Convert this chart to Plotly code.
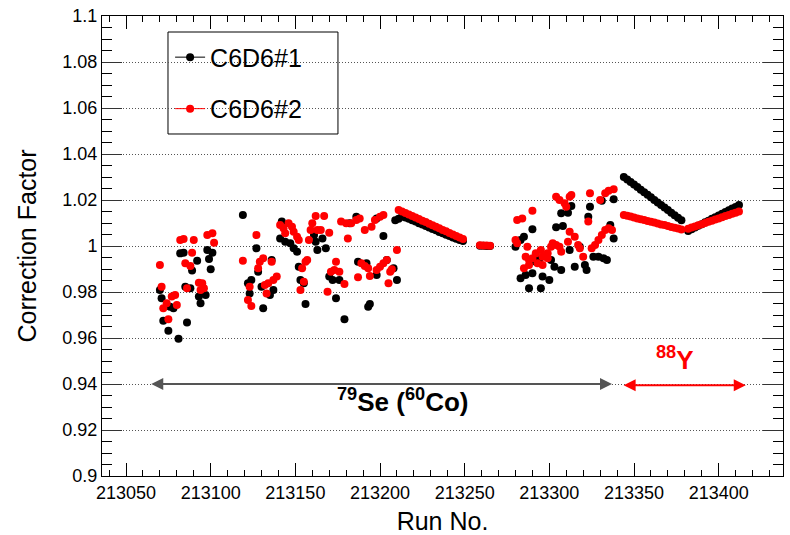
import plotly.graph_objects as go

# ---------------- data ----------------
# C6D6#1 (black)
c1_run = [
    213070, 213071, 213072, 213075, 213081, 213086, 213078, 213076, 213082, 213084,
    213089, 213092, 213085, 213088, 213093, 213094, 213097, 213098, 213099, 213101, 213100,
    213119, 213127, 213122, 213124, 213123, 213131, 213128, 213130, 213135, 213137,
    213136, 213141, 213144, 213147, 213149, 213151, 213142, 213152, 213153, 213155,
    213156, 213161, 213162, 213163, 213168, 213166, 213170, 213172, 213176, 213174,
    213179, 213187, 213192, 213193, 213194, 213198, 213202, 213204, 213208, 213210,
    213182, 213186, 213198,
    213209, 213211, 213213, 213215, 213217, 213219, 213221, 213223, 213225, 213227, 213229,
    213231, 213233, 213235, 213237, 213239, 213241, 213243, 213245, 213247, 213249,
    213259, 213261, 213263, 213265,
    213280, 213283, 213285, 213290, 213307, 213311, 213313, 213304, 213308, 213324,
    213323, 213331, 213338, 213336, 213338, 213283, 213288, 213295, 213286, 213290,
    213296, 213300, 213303, 213307, 213315, 213321, 213322, 213326, 213329, 213332,
    213334, 213312, 213318, 213292, 213294, 213301,
    213344, 213346, 213348, 213350, 213352, 213354, 213356, 213358, 213360, 213362,
    213364, 213366, 213368, 213370, 213372, 213374, 213376, 213378,
    213382, 213384, 213386, 213388, 213390, 213392, 213394, 213396, 213398, 213400,
    213402, 213404, 213406, 213408, 213410, 213412,
]
c1_cf = [
    0.9809, 0.9773, 0.9675, 0.9632, 0.9597, 0.9667, 0.9729, 0.9736, 0.9968, 0.9971,
    0.9893, 0.9936, 0.9823, 0.9816, 0.9780, 0.9751, 0.9787, 0.9983, 0.9943, 0.9971, 0.9899,
    1.0135, 0.9990, 0.9838, 0.9852, 0.9794, 0.9729, 0.9888, 0.9823, 0.9787, 0.9809,
    0.9939, 1.0033, 1.0019, 1.0012, 0.9990, 0.9975, 1.0106, 0.9910, 0.9852, 0.9838,
    0.9748, 1.0048, 1.0019, 0.9983, 0.9990, 1.0033, 0.9867, 0.9852, 0.9852, 0.9773,
    0.9681, 0.9932, 0.9925, 0.9736, 0.9748, 0.9874, 1.0043, 0.9939, 0.9903, 0.9852,
    1.0099, 1.0127, 1.0120,
    1.0112, 1.0118, 1.0128, 1.0124, 1.0118, 1.0112, 1.0106, 1.0099, 1.0093, 1.0087, 1.0080,
    1.0074, 1.0068, 1.0061, 1.0055, 1.0049, 1.0043, 1.0037, 1.0031, 1.0026, 1.0022,
    1.0001, 1.0001, 1.0000, 1.0000,
    0.9997, 1.0026, 1.0040, 1.0073, 1.0142, 1.0145, 1.0174, 1.0081, 1.0087, 1.0171,
    1.0127, 1.0197, 1.0203, 1.0091, 1.0033, 0.9860, 0.9816, 0.9816, 0.9874, 0.9881,
    0.9867, 0.9852, 0.9910, 0.9896, 0.9910, 0.9917, 0.9896, 0.9953, 0.9953, 0.9947,
    0.9939, 0.9983, 0.9997, 0.9932, 0.9939, 0.9939,
    1.0300, 1.0289, 1.0278, 1.0267, 1.0256, 1.0245, 1.0234, 1.0223, 1.0212, 1.0200,
    1.0189, 1.0178, 1.0167, 1.0156, 1.0145, 1.0134, 1.0123, 1.0112,
    1.0065, 1.0073, 1.0080, 1.0088, 1.0095, 1.0103, 1.0110, 1.0118, 1.0125, 1.0133,
    1.0140, 1.0148, 1.0155, 1.0163, 1.0170, 1.0178,
]

# C6D6#2 (red)
c2_run = [
    213070, 213071, 213072, 213074, 213077, 213079, 213080, 213075, 213082, 213084,
    213090, 213089, 213085, 213088, 213086, 213093, 213095, 213096, 213094, 213098,
    213101, 213102,
    213119, 213127, 213129, 213131, 213128, 213136, 213123, 213122, 213124, 213132,
    213134, 213137, 213139, 213133, 213141, 213143, 213146, 213148, 213149, 213151,
    213152, 213144, 213154, 213156, 213157, 213155, 213153, 213158, 213160, 213162,
    213167, 213159, 213163, 213165, 213170, 213169, 213171, 213173, 213174, 213176,
    213179, 213177, 213180, 213181, 213183, 213186, 213188, 213187, 213189, 213191,
    213193, 213194, 213191, 213195, 213197, 213200, 213202, 213198, 213200, 213202,
    213204, 213206, 213207, 213205, 213210,
    213211, 213213, 213215, 213217, 213219, 213221, 213223, 213225, 213227, 213229,
    213231, 213233, 213235, 213237, 213239, 213241, 213243, 213245, 213247, 213249,
    213259, 213261, 213263, 213265,
    213281, 213284, 213280, 213281, 213290, 213304, 213306, 213309, 213312, 213313,
    213310, 213324, 213323, 213330, 213333, 213335, 213338, 213287, 213286, 213288,
    213290, 213292, 213295, 213296, 213299, 213301, 213302, 213304, 213306, 213307,
    213285, 213288, 213293, 213296, 213299, 213311, 213312, 213315, 213317, 213318,
    213320, 213325, 213327, 213329, 213331, 213333, 213335, 213337,
    213344, 213346, 213348, 213350, 213352, 213354, 213356, 213358, 213360, 213362,
    213364, 213366, 213368, 213370, 213372, 213374, 213376, 213378,
    213382, 213384, 213386, 213388, 213390, 213392, 213394, 213396, 213398, 213400,
    213402, 213404, 213406, 213408, 213410, 213412,
]
c2_cf = [
    0.9917, 0.9823, 0.9729, 0.9751, 0.9780, 0.9787, 0.9743, 0.9681, 1.0026, 1.0030,
    1.0026, 0.9971, 0.9925, 0.9913, 0.9816, 0.9840, 0.9838, 0.9816, 0.9809, 1.0048,
    1.0055, 1.0014,
    0.9936, 1.0048, 0.9932, 0.9947, 0.9903, 0.9932, 0.9823, 0.9765, 0.9739, 0.9830,
    0.9838, 0.9852, 0.9867, 0.9794, 1.0091, 1.0077, 1.0099, 1.0084, 1.0062, 1.0040,
    1.0026, 1.0055, 0.9903, 0.9932, 0.9939, 0.9845, 0.9809, 1.0026, 1.0099, 1.0130,
    1.0130, 1.0070, 1.0070, 1.0070, 1.0058, 0.9801, 0.9888, 0.9896, 0.9932, 0.9888,
    0.9835, 1.0106, 1.0099, 1.0033, 1.0099, 1.0113, 1.0120, 0.9864, 0.9925, 0.9913,
    0.9903, 0.9870, 1.0070, 1.0084, 1.0113, 1.0127, 1.0135, 0.9896, 0.9910, 0.9925,
    0.9939, 0.9888, 0.9899, 0.9838, 0.9983,
    1.0157, 1.0150, 1.0144, 1.0137, 1.0130, 1.0124, 1.0117, 1.0110, 1.0104, 1.0097,
    1.0090, 1.0084, 1.0077, 1.0070, 1.0064, 1.0057, 1.0050, 1.0044, 1.0037, 1.0030,
    1.0003, 1.0002, 1.0002, 1.0001,
    1.0113, 1.0120, 1.0026, 1.0012, 1.0153, 1.0214, 1.0200, 1.0186, 1.0214, 1.0222,
    1.0171, 1.0229, 1.0106, 1.0200, 1.0229, 1.0240, 1.0247, 0.9997, 0.9953, 0.9939,
    0.9947, 0.9968, 0.9983, 0.9953, 0.9968, 0.9997, 1.0012, 1.0004, 0.9997, 0.9975,
    0.9903, 0.9917, 0.9925, 0.9917, 0.9947, 1.0019, 1.0062, 1.0040, 1.0004, 0.9990,
    0.9953, 0.9990, 1.0004, 1.0026, 1.0048, 1.0070, 1.0077, 1.0070,
    1.0135, 1.0131, 1.0128, 1.0124, 1.0120, 1.0116, 1.0113, 1.0109, 1.0105, 1.0102,
    1.0098, 1.0094, 1.0091, 1.0087, 1.0083, 1.0079, 1.0076, 1.0072,
    1.0075, 1.0080, 1.0085, 1.0090, 1.0095, 1.0100, 1.0105, 1.0110, 1.0115, 1.0120,
    1.0125, 1.0130, 1.0135, 1.0140, 1.0145, 1.0150,
]

y_ticks = [0.9, 0.92, 0.94, 0.96, 0.98, 1.0, 1.02, 1.04, 1.06, 1.08, 1.1]

# source ranges shown by the arrows
se_range = [213064, 213337]
y88_range = [213343, 213416]
arrow_level = 0.94

FONT = "Liberation Sans, Arial, Helvetica, sans-serif"

fig = go.Figure()
fig.add_trace(go.Scatter(x=c1_run, y=c1_cf, mode="markers", name="C6D6#1",
                         marker=dict(color="black", size=8), showlegend=False))
fig.add_trace(go.Scatter(x=c2_run, y=c2_cf, mode="markers", name="C6D6#2",
                         marker=dict(color="#ff0000", size=8), showlegend=False))
# legend entries (line + marker style as in the original)
fig.add_trace(go.Scatter(x=[None], y=[None], mode="lines+markers", name="C6D6#1",
                         line=dict(color="black", width=1), marker=dict(color="black", size=8),
                         legendgroup="a"))
fig.add_trace(go.Scatter(x=[None], y=[None], mode="lines+markers", name="C6D6#2",
                         line=dict(color="#ff0000", width=1), marker=dict(color="#ff0000", size=8),
                         legendgroup="b"))

# arrows
fig.add_annotation(x=se_range[1], y=arrow_level, ax=se_range[0], ay=arrow_level,
                   xref="x", yref="y", axref="x", ayref="y", text="", showarrow=True,
                   arrowhead=2, startarrowhead=2, arrowside="end+start", arrowsize=1.2,
                   startarrowsize=1.2, arrowwidth=2, arrowcolor="#555555")
fig.add_annotation(x=y88_range[1], y=arrow_level - 0.0005, ax=y88_range[0], ay=arrow_level - 0.0005,
                   xref="x", yref="y", axref="x", ayref="y", text="", showarrow=True,
                   arrowhead=2, startarrowhead=2, arrowside="end+start", arrowsize=1.2,
                   startarrowsize=1.2, arrowwidth=2, arrowcolor="#ff0000")
fig.add_annotation(x=213213, y=0.933, xref="x", yref="y", showarrow=False,
                   text="<b><sup>79</sup>Se (<sup>60</sup>Co)</b>",
                   font=dict(family=FONT, size=26, color="black"))
fig.add_annotation(x=213374, y=0.951, xref="x", yref="y", showarrow=False,
                   text="<b><sup>88</sup>Y</b>",
                   font=dict(family=FONT, size=26, color="#ff0000"))

# legend frame
fig.add_shape(type="rect", xref="paper", yref="paper",
              x0=0.0969, x1=0.3465, y0=0.7435, y1=0.9652,
              line=dict(color="black", width=1), fillcolor="white", layer="below")

fig.update_layout(
    width=790, height=535,
    margin=dict(l=102, r=7, t=16, b=59, autoexpand=False),
    paper_bgcolor="white", plot_bgcolor="white",
    font=dict(family=FONT, color="black"),
    showlegend=True,
    legend=dict(x=0.1, y=0.96, xanchor="left", yanchor="top",
                bgcolor="rgba(0,0,0,0)", borderwidth=0,
                font=dict(family=FONT, size=25), tracegroupgap=16,
                itemwidth=30),
)
fig.update_xaxes(
    range=[213035.8, 213438], tickmode="linear", tick0=213050, dtick=50,
    tickformat="d", ticks="inside", ticklen=13, tickcolor="black",
    showline=True, linecolor="black", linewidth=1, mirror="ticks",
    showgrid=False, zeroline=False, automargin=False,
    minor=dict(ticks="inside", ticklen=6, dtick=10, tick0=213050, tickcolor="black", showgrid=False),
    tickfont=dict(family=FONT, size=18),
    title=dict(text="Run No.", font=dict(family=FONT, size=25), standoff=13),
)
fig.update_yaxes(
    range=[0.9, 1.1], tickmode="array", tickvals=y_ticks,
    ticks="inside", ticklen=20, tickcolor="#333333",
    showline=True, linecolor="black", linewidth=1, mirror="ticks",
    showgrid=True, gridcolor="#555555", griddash="1px,2px", gridwidth=1, zeroline=False,
    automargin=False,
    minor=dict(ticks="inside", ticklen=10, dtick=0.005, tick0=0.9, tickcolor="black", showgrid=False),
    tickfont=dict(family=FONT, size=18),
    title=dict(text="Correction Factor", font=dict(family=FONT, size=25), standoff=18),
)

fig.write_html("out.html")
